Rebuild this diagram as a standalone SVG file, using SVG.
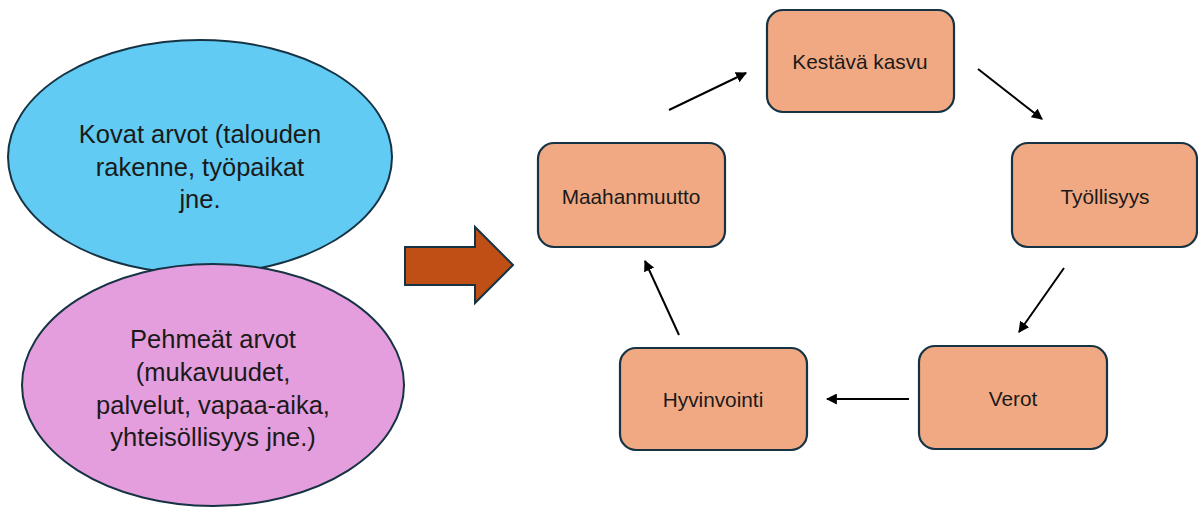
<svg xmlns="http://www.w3.org/2000/svg" width="1198" height="508" viewBox="0 0 1198 508">
<defs>
<style>
.lbl{font-family:"Liberation Sans",Arial,sans-serif;fill:#1a1a1a;text-anchor:middle;dominant-baseline:central}
.big{font-size:25.5px}
.sm{font-size:20.8px}
.node{fill:#F1A983;stroke:#163344;stroke-width:2.2}
.ell{stroke:#163344;stroke-width:2}
.conn{stroke:#000;stroke-width:2;fill:none;marker-end:url(#ah)}
</style>
<marker id="ah" viewBox="0 0 10 10" refX="9" refY="5" markerWidth="5.5" markerHeight="5.5" orient="auto" markerUnits="strokeWidth">
<path d="M0,0 L10,5 L0,10 z" fill="#000"/>
</marker>
</defs>
<rect width="1198" height="508" fill="#fff"/>
<g id="kovat">
<ellipse class="ell" cx="200" cy="157" rx="192" ry="117" fill="#61CBF3"/>
<text class="lbl big" x="200" y="134">Kovat arvot (talouden</text>
<text class="lbl big" x="200" y="167">rakenne, työpaikat</text>
<text class="lbl big" x="200" y="199">jne.</text>
</g>
<g id="pehmeat">
<ellipse class="ell" cx="213" cy="385" rx="191" ry="121" fill="#E59EDD"/>
<text class="lbl big" x="213" y="339">Pehmeät arvot</text>
<text class="lbl big" x="213" y="372">(mukavuudet,</text>
<text class="lbl big" x="213" y="405">palvelut, vapaa-aika,</text>
<text class="lbl big" x="213" y="437">yhteisöllisyys jne.)</text>
</g>
<g id="bigarrow">
<path d="M405,247 L475,247 L475,227 L513,265 L475,303 L475,285 L405,285 Z" fill="#C04F15" stroke="#163344" stroke-width="2"/>
</g>
<g id="kestava">
<rect class="node" x="767" y="10" width="187" height="102" rx="16"/>
<text class="lbl sm" x="860" y="61">Kestävä kasvu</text>
</g>
<g id="tyollisyys">
<rect class="node" x="1012" y="143" width="185" height="104" rx="16"/>
<text class="lbl sm" x="1105" y="196">Työllisyys</text>
</g>
<g id="verot">
<rect class="node" x="919" y="346" width="188" height="103" rx="16"/>
<text class="lbl sm" x="1013" y="398">Verot</text>
</g>
<g id="hyvinvointi">
<rect class="node" x="620" y="348" width="187" height="102" rx="16"/>
<text class="lbl sm" x="713" y="399">Hyvinvointi</text>
</g>
<g id="maahanmuutto">
<rect class="node" x="538" y="143" width="187" height="104" rx="16"/>
<text class="lbl sm" x="631" y="196">Maahanmuutto</text>
</g>
<g id="connectors">
<line class="conn" x1="669" y1="110" x2="746" y2="73"/>
<line class="conn" x1="978" y1="69" x2="1042" y2="119"/>
<line class="conn" x1="1064" y1="268" x2="1019" y2="332"/>
<line class="conn" x1="909" y1="399" x2="827" y2="399"/>
<line class="conn" x1="679" y1="335" x2="645" y2="261"/>
</g>
</svg>
